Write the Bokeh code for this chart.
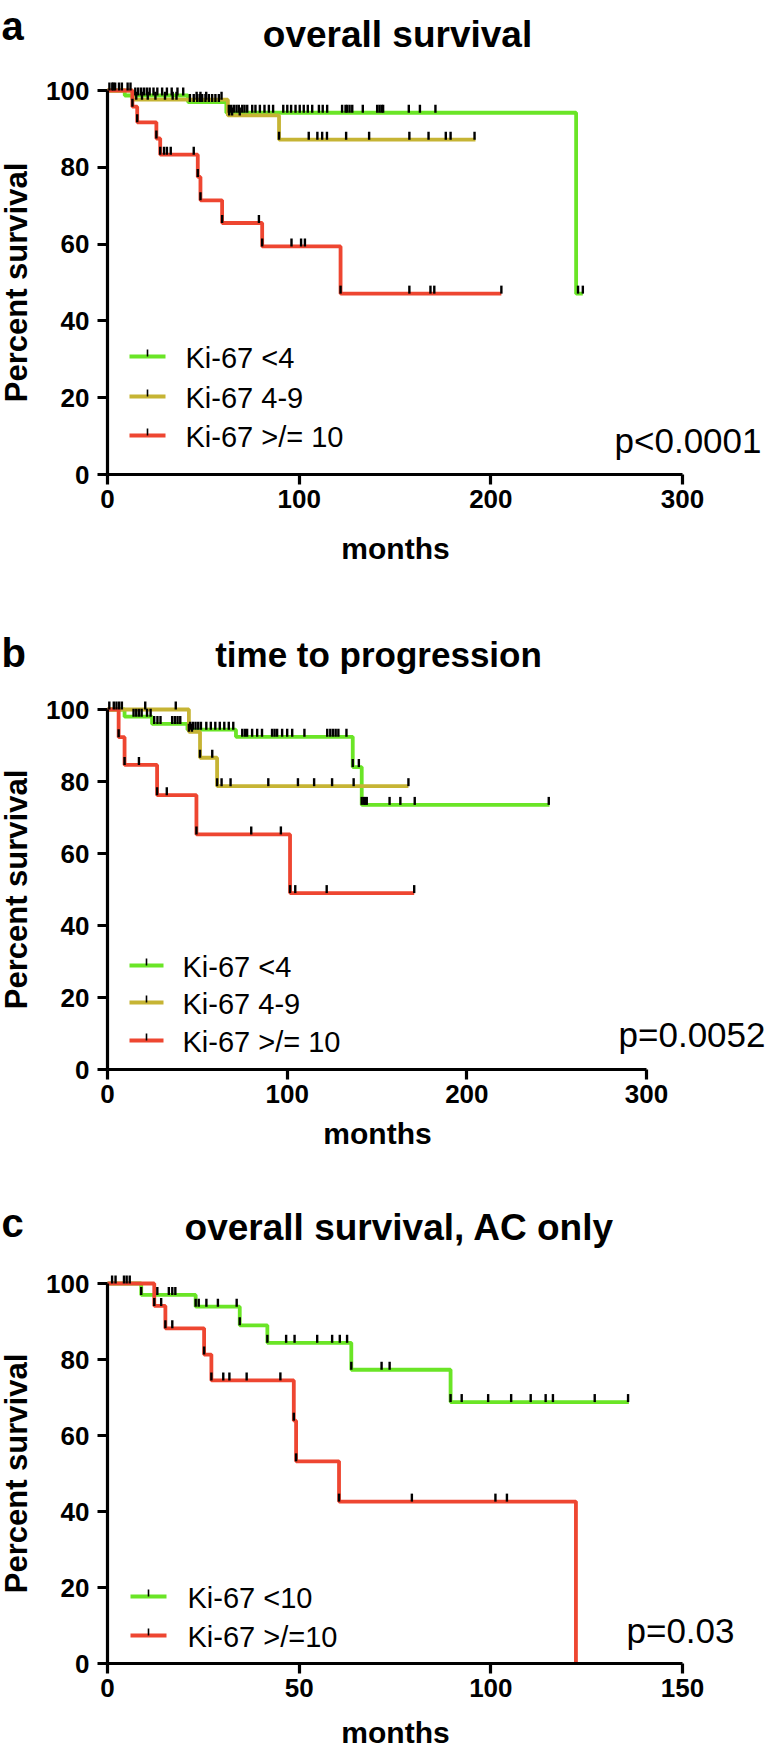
import numpy as np
from bokeh.plotting import figure
from bokeh.models import Label, FixedTicker, Range1d
from bokeh.layouts import column
from bokeh.embed import file_html
from bokeh.resources import INLINE

FONT = "Liberation Sans"
GREEN = "#6AE526"
OLIVE = "#C6B434"
RED = "#EE4631"
W = 767

# ---------------- data ----------------
# panel a : overall survival (months, percent survival)
a_green_t = [9, 42, 62, 244.5]
a_green_s = [98.7, 97.0, 94.2, 47.1]
a_green_end = 248
a_green_cens = [1, 2.5, 4, 6, 7.5,
                14.5, 16, 17.5, 19, 20.5, 22, 24, 26, 28.5, 31, 33.5, 36.5, 39.5,
                43, 45, 46.8, 48.2, 49.4, 51.1, 52.9, 54.6, 56.3, 58.1,
                63.3, 64.5, 65.9, 67.3, 68.5, 70.3, 71.5, 72.9, 75.5, 77.2, 79.5, 81.9,
                84.2, 86.4, 91.7, 93.8, 95.8, 98.1, 100.3, 102.4, 104.5, 106.8, 110.3,
                112.3, 114.6, 122.4, 124.2, 125, 126.3, 127.7, 133.2, 140.7, 141.9, 143,
                143.8, 157.2, 163, 171.1, 245.5, 248]
a_olive_t = [13, 62.8, 89.5]
a_olive_s = [97.6, 93.5, 87.2]
a_olive_end = 192
a_olive_cens = [3, 10.5, 12, 15, 18, 21, 25, 30, 34, 36, 46.5, 48.5, 51.5, 59.5,
                63.5, 65, 69, 89.5, 105, 109.5, 112, 114.5, 124.5, 136.5, 157.5,
                167.5, 176.5, 179, 191.5]
a_red_t = [13, 15.5, 25.5, 27.5, 47.1, 48.5, 59.8, 80.7, 121.6]
a_red_s = [95.8, 91.7, 87.5, 83.3, 77.5, 71.4, 65.5, 59.4, 47.1]
a_red_end = 205.5
a_red_cens = [13, 15.5, 25.5, 27.5, 29.5, 31, 33, 45, 47.1, 48.5, 59.8, 79, 80.7,
              96, 101, 103, 121.6, 157.5, 168.5, 170.5, 205.5]

# panel b : time to progression
b_green_t = [9.5, 24.8, 44.5, 71.5, 136.5, 141.5]
b_green_s = [98.0, 96.0, 94.4, 92.4, 84.0, 73.5]
b_green_end = 246
b_green_cens = [1, 3.5, 5, 6.5, 8, 14.5, 16, 17.5, 19, 22, 24,
                26, 27.8, 29.5, 36, 37.5, 39, 40.5,
                46, 47.5, 49, 50.5, 52, 55, 57.5, 60, 62.5, 65, 67.5, 70,
                75, 76.5, 77.7, 80.5, 83.3, 86, 91.6, 93, 94.4, 97.2, 100, 102.8,
                109.6, 122.3, 124, 125.5, 127, 128.5, 133,
                136.5, 139.9, 141.5, 142.7, 143.5, 144.3, 157, 163, 171, 245.6]
b_olive_t = [45.3, 51.5, 61]
b_olive_s = [93.8, 86.6, 78.7]
b_olive_end = 167.5
b_olive_cens = [21, 38, 45.3, 47, 51.5, 58.3, 61, 63.5, 68.5, 89.5, 106, 115,
                125, 137, 167.5]
b_red_t = [6.2, 9.5, 27.6, 49.5, 101.6]
b_red_s = [92.3, 84.6, 76.2, 65.3, 49.0]
b_red_end = 170.7
b_red_cens = [6.2, 9.5, 17.5, 27.6, 33, 49.5, 80, 96.5, 101.6, 104.5, 122, 170.7]

# panel c : overall survival, AC only
c_green_t = [8.8, 23, 34.5, 41.7, 63.6, 89.5]
c_green_s = [97.0, 93.9, 89.0, 84.4, 77.3, 68.8]
c_green_end = 136
c_green_cens = [1.2, 2.1, 4.3, 5, 5.8, 8.8, 13, 16, 16.9, 17.7,
                23, 23.8, 25.8, 28.8, 33.7, 34.5,
                41.7, 46.6, 48.8, 54.7, 58.6, 60.6, 62.5,
                63.6, 71.5, 73.6,
                89.5, 92.4, 99.3, 105.3, 110.4, 114.3, 116.2, 127.1, 135.8]
c_red_t = [12.2, 15.1, 25.2, 27.1, 48.6, 49.2, 60.4, 122.2]
c_red_s = [94.1, 88.2, 81.3, 74.5, 63.9, 53.2, 42.6, 0]
c_red_end = 122.2
c_red_cens = [12.2, 14, 15.1, 16.9, 25.2, 27.1, 30.2, 31.8, 36.3, 45.1, 48.6,
              49.2, 60.4, 79.4, 101.2, 104.2]

legend_ab = ["Ki-67 <4", "Ki-67 4-9", "Ki-67 >/= 10"]
legend_c = ["Ki-67 <10", "Ki-67 >/=10"]
titles = ["overall survival", "time to progression", "overall survival, AC only"]
letters = ["a", "b", "c"]
pvalues = ["p<0.0001", "p=0.0052", "p=0.03"]
y_ticks = [0, 20, 40, 60, 80, 100]
x_ticks_ab = [0, 100, 200, 300]
x_ticks_c = [0, 50, 100, 150]

BASE_K = 0.3   # correction: rendered baseline sits ~0.3 em below the anchor


def level_at(times, levels, c):
    i = np.searchsorted(np.asarray(times), c, side="right")
    return 100.0 if i == 0 else levels[i - 1]


def make_panel(g):
    # layout in page pixels: axis origin / extents
    L, R, Y100, Y0 = g["L"], g["R"], g["Y100"], g["Y0"]
    top, bot = g["top"], g["bot"]
    xmax = g["xticks"][-1]
    ppu = (Y0 - Y100) / 100.0

    def dx(px):
        return (px - L) / (R - L) * xmax

    def dy(py):
        return (Y0 - py) / ppu

    def text(px, base, txt, fs, bold=False, align="left", angle=0.0):
        if angle:
            x, y = dx(base - BASE_K * fs), dy(px)
        else:
            x, y = dx(px), dy(base - BASE_K * fs)
        p.add_layout(Label(x=x, y=y, text=txt, angle=angle, text_font=FONT,
                           text_font_size=f"{fs}px",
                           text_font_style="bold" if bold else "normal",
                           text_color="black", text_align=align,
                           text_baseline="alphabetic"))

    p = figure(width=W, height=bot - top,
               x_range=Range1d(dx(0), dx(W)), y_range=Range1d(dy(bot), dy(top)),
               output_backend="svg", toolbar_location=None,
               min_border_left=0, min_border_right=0,
               min_border_top=0, min_border_bottom=0)
    p.grid.visible = False
    p.outline_line_color = None
    p.xaxis.fixed_location = 0
    p.yaxis.fixed_location = 0
    p.xaxis.ticker = FixedTicker(ticks=g["xticks"])
    p.yaxis.ticker = FixedTicker(ticks=y_ticks)
    p.xaxis.bounds = (0, xmax)
    p.yaxis.bounds = (0, 100)
    for ax in (p.xaxis, p.yaxis):
        ax.axis_line_width = 3.2
        ax.axis_line_color = "black"
        ax.major_tick_line_width = 3.2
        ax.major_tick_line_color = "black"
        ax.major_tick_out = 10
        ax.major_tick_in = 0
        ax.minor_tick_line_color = None
        ax.major_label_text_font = FONT
        ax.major_label_text_font_size = "26px"
        ax.major_label_text_font_style = "bold"
        ax.major_label_text_color = "black"
    p.xaxis.major_label_standoff = 5
    p.yaxis.major_label_standoff = 8

    tick_h = 8 / ppu
    for (t, s, end, cens, col) in g["series"]:
        xs = [0] + list(t) + [end]
        ys = [100] + list(s) + [s[-1]]
        p.step(xs, ys, mode="after", line_color=col, line_width=3.8)
    for (t, s, end, cens, col) in g["series"]:
        lv = [level_at(t, s, c) for c in cens]
        p.segment(x0=cens, y0=lv, x1=cens, y1=[v + tick_h for v in lv],
                  line_color="black", line_width=2.4)

    # legend
    lx0, lx1, ltx = g["leg_x"]
    for (lab, ry, col) in zip(g["legend"], g["leg_rows"], g["leg_cols"]):
        p.segment(x0=[dx(lx0)], y0=[dy(ry)], x1=[dx(lx1)], y1=[dy(ry)],
                  line_color=col, line_width=4)
        mid = (lx0 + lx1) / 2
        p.segment(x0=[dx(mid)], y0=[dy(ry)], x1=[dx(mid)], y1=[dy(ry - 7)],
                  line_color="black", line_width=1.6)
        text(ltx, ry + 10, lab, 29)

    text(g["p_right"], g["p_base"], g["pval"], 35, align="right")
    text(g["title_x"], g["title_base"], g["title"], g["title_fs"], bold=True,
         align="center")
    text(1, g["letter_base"], g["letter"], 40, bold=True)
    text(g["months_x"], g["months_base"], "months", 30, bold=True, align="center")
    text((Y0 + Y100) / 2, 25, "Percent survival", 31, bold=True, align="center",
         angle=np.pi / 2)
    return p


pa = make_panel(dict(
    L=107, R=682, Y100=90, Y0=474, top=0, bot=570, xticks=x_ticks_ab,
    series=[(a_green_t, a_green_s, a_green_end, a_green_cens, GREEN),
            (a_olive_t, a_olive_s, a_olive_end, a_olive_cens, OLIVE),
            (a_red_t, a_red_s, a_red_end, a_red_cens, RED)],
    legend=legend_ab, leg_rows=[356, 396, 435], leg_cols=[GREEN, OLIVE, RED],
    leg_x=(129, 165, 185), pval=pvalues[0], p_base=450, p_right=761,
    title=titles[0], title_fs=37, title_x=397, title_base=45,
    letter=letters[0], letter_base=37, months_x=395, months_base=557))

pb = make_panel(dict(
    L=107, R=646, Y100=709, Y0=1069, top=570, bot=1152, xticks=x_ticks_ab,
    series=[(b_green_t, b_green_s, b_green_end, b_green_cens, GREEN),
            (b_olive_t, b_olive_s, b_olive_end, b_olive_cens, OLIVE),
            (b_red_t, b_red_s, b_red_end, b_red_cens, RED)],
    legend=legend_ab, leg_rows=[965, 1002, 1040], leg_cols=[GREEN, OLIVE, RED],
    leg_x=(129, 163, 182), pval=pvalues[1], p_base=1044, p_right=765,
    title=titles[1], title_fs=35, title_x=378, title_base=664,
    letter=letters[1], letter_base=664, months_x=377, months_base=1142))

pc = make_panel(dict(
    L=107, R=682, Y100=1283, Y0=1663, top=1152, bot=1748, xticks=x_ticks_c,
    series=[(c_green_t, c_green_s, c_green_end, c_green_cens, GREEN),
            (c_red_t, c_red_s, c_red_end, c_red_cens, RED)],
    legend=legend_c, leg_rows=[1596, 1635], leg_cols=[GREEN, RED],
    leg_x=(130, 166, 187), pval=pvalues[2], p_base=1640, p_right=734,
    title=titles[2], title_fs=37, title_x=399, title_base=1238,
    letter=letters[2], letter_base=1234, months_x=395, months_base=1741))

layout = column(pa, pb, pc)
open("out.html", "w").write(file_html(layout, INLINE))
